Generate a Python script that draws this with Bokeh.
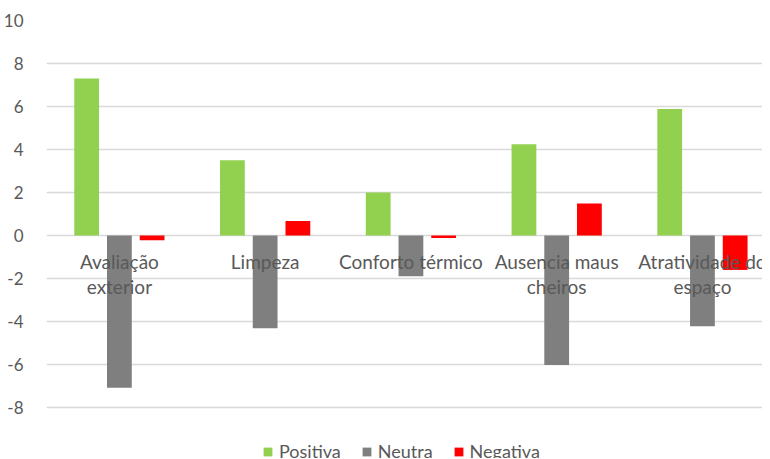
from bokeh.plotting import figure
from bokeh.models import Range1d, FixedTicker, ColumnDataSource, Legend, LegendItem
from bokeh.core.properties import value
from bokeh.embed import file_html
from bokeh.resources import INLINE

categories = ["Avaliação\nexterior", "Limpeza", "Conforto térmico", "Ausencia maus\ncheiros", "Atratividade do\nespaço"]
positiva = [7.3, 3.5, 2.0, 4.25, 5.88]
neutra = [-7.08, -4.31, -1.89, -6.02, -4.22]
negativa = [-0.22, 0.67, -0.12, 1.49, -1.6]
y_ticks = [-8, -6, -4, -2, 0, 2, 4, 6, 8, 10]

FONT = "Lato"
TXT = "#595959"

p = figure(width=762, height=458, output_backend="svg", toolbar_location=None,
           x_axis_location=None, min_border_left=40, min_border_right=0,
           min_border_top=20, min_border_bottom=0,
           x_range=Range1d(0, 4.912), y_range=Range1d(-10.37, 10))
p.outline_line_color = None
p.xgrid.visible = False
p.ygrid.ticker = FixedTicker(ticks=y_ticks)
p.ygrid.grid_line_color = "#d9d9d9"
p.ygrid.grid_line_width = 1.3

ax = p.yaxis[0]
ax.ticker = FixedTicker(ticks=y_ticks)
ax.major_label_overrides = {t: str(t) for t in y_ticks}
ax.axis_line_color = None
ax.major_tick_line_color = None
ax.minor_tick_line_color = None
ax.major_label_standoff = 17
ax.major_label_text_font = FONT
ax.major_label_text_font_size = "17px"
ax.major_label_text_color = TXT

idx = [i + 0.5 for i in range(len(categories))]
off = 0.2245
w = 0.17
src = ColumnDataSource(dict(x=idx, pos=positiva, neu=neutra, neg=negativa, lab=categories))
r1 = p.vbar(x=[v - off for v in idx], top=positiva, bottom=0, width=w, fill_color="#92d050", line_color=None)
r2 = p.vbar(x=idx, top=neutra, bottom=0, width=w, fill_color="#7f7f7f", line_color=None)
r3 = p.vbar(x=[v + off for v in idx], top=negativa, bottom=0, width=w, fill_color="#ff0000", line_color=None)

p.text(x="x", y=0, text="lab", source=src, text_font=value(FONT), text_font_size="19px",
       text_color=TXT, text_align="center", text_baseline="top", text_line_height=1.1,
       y_offset=14)

legend = Legend(items=[LegendItem(label="Positiva", renderers=[r1]),
                       LegendItem(label="Neutra", renderers=[r2]),
                       LegendItem(label="Negativa", renderers=[r3])],
                orientation="horizontal", location=(216, -4), padding=0, margin=0,
                spacing=20, glyph_width=11, glyph_height=11, label_standoff=6,
                label_text_font=FONT, label_text_font_size="18px", label_text_color=TXT,
                background_fill_alpha=0, border_line_color=None)
p.add_layout(legend)

open("out.html", "w").write(file_html(p, INLINE))
